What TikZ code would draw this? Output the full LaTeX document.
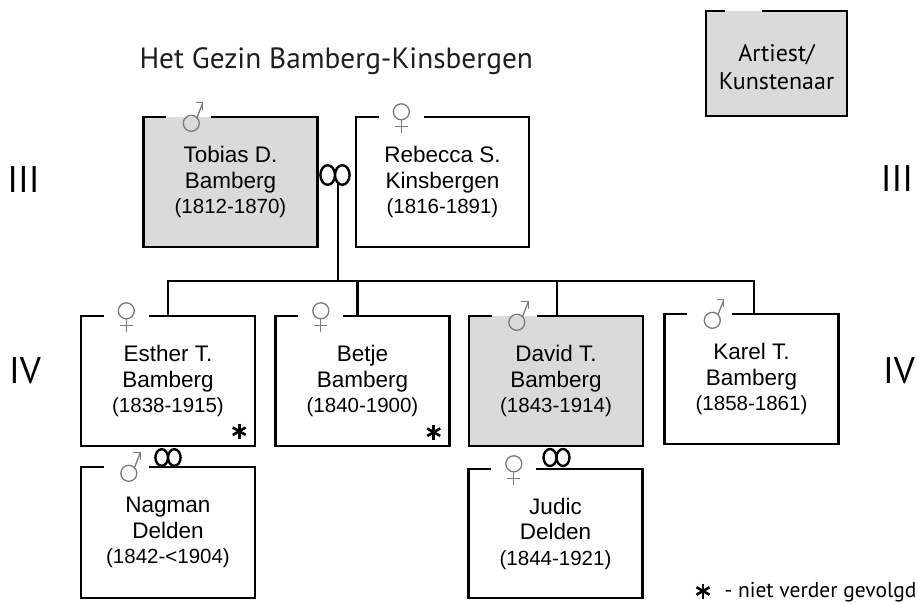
\documentclass[tikz,border=0pt]{standalone}
\usepackage{fontspec}
\setmainfont{Liberation Sans}
\newfontfamily\kopfont{PT Sans}
\definecolor{kunst}{HTML}{DADADA}
\definecolor{teken}{HTML}{7A7A7A}
\definecolor{titel}{HTML}{1E1E1E}
\newcommand{\datum}{\fontsize{20.5}{25.5}\selectfont}
\tikzset{
	persoon/.style={
		minimum width=174,
		minimum height=130,
		inner sep=0,
		align=center,
		font=\fontsize{22.5}{25.5}\selectfont
	},
	rand/.style={line width=2.5pt},
	lijn/.style={line width=2.5pt},
	generatie/.style={
		inner sep=0,
		font=\kopfont\fontsize{37}{40}\selectfont
	},
	man/.style={
		minimum size=40, inner sep=0,
		path picture={
			\begin{scope}[shift={(path picture bounding box.center)}, draw=teken, line width=1.3pt]
				\draw (2.5,6.5) circle (8pt);
				\draw (8.2,0.8) -- (14,-14);
				\draw (7,-14) -- (14,-14) -- (14,-7);
			\end{scope}
		}
	},
	vrouw/.style={
		minimum size=40, inner sep=0,
		path picture={
			\begin{scope}[shift={(path picture bounding box.center)}, draw=teken, line width=1.3pt]
				\draw (0,-5) circle (8pt);
				\draw (0,3) -- (0,16);
				\draw (-6.5,10) -- (6.5,10);
			\end{scope}
		}
	},
	huwelijk/.style 2 args={
		minimum width=40, minimum height=30, inner sep=0,
		path picture={
			\draw[line width=2.4pt] ([xshift=-#1]path picture bounding box.center) ellipse (#1 and #2)
				([xshift=#1]path picture bounding box.center) ellipse (#1 and #2);
		}
	},
	nietgevolgd/.style={
		minimum size=20, inner sep=0,
		path picture={
			\begin{scope}[shift={(path picture bounding box.center)}]
				\foreach \a in {90,30,150}
					\draw[line width=2.6pt] (\a:7.5pt) -- (\a+180:7.5pt);
			\end{scope}
		}
	}
}

\begin{document}
\begin{tikzpicture}[x=1pt, y=-1pt]
	\useasboundingbox (0,0) rectangle (917,603);
	% titel en legenda
	\node[anchor=base west, text=titel, font=\kopfont\fontsize{29.3}{31}\selectfont] (titel) at (136,68) {Het Gezin Bamberg-Kinsbergen};
	\node[persoon, fill=kunst, minimum width=141, minimum height=105] (legenda) at (776.5,63.5) {};
	\node[align=center, inner sep=0, font=\kopfont\fontsize{24}{28}\selectfont] (legenda-tekst) at (legenda.center) [yshift=-4pt] {Artiest/\\Kunstenaar};
	\draw[line width=2.4pt] ([xshift=56pt]legenda.north west) -| (legenda.south east) -| (legenda.north west) -- ([xshift=19pt]legenda.north west);

	% generatie III
	\node[persoon, fill=kunst] (tobias) at (230.5,182) {Tobias D.\\Bamberg\\{\datum (1812-1870)}};
	\node[persoon, minimum width=173] (rebecca) at (442.5,182) {Rebecca S.\\Kinsbergen\\{\datum (1816-1891)}};
	% generatie IV
	\node[persoon] (esther) at (168,381) {Esther T.\\Bamberg\\{\datum (1838-1915)}};
	\node[persoon] (betje) at (362.5,381) {Betje\\Bamberg\\{\datum (1840-1900)}};
	\node[persoon, fill=kunst] (david) at (556,381) {David T.\\Bamberg\\{\datum (1843-1914)}};
	\node[persoon] (karel) at (751.5,379) {Karel T.\\Bamberg\\{\datum (1858-1861)}};
	% aangetrouwd
	\node[persoon, minimum height=131] (nagman) at (168,532.5) {Nagman\\Delden\\{\datum (1842-<1904)}};
	\node[persoon, minimum height=129] (judic) at (555.5,533.5) {Judic\\Delden\\{\datum (1844-1921)}};

	\foreach \p in {tobias,rebecca,esther,betje,david,karel,nagman,judic}
		\draw[rand] ([xshift=68pt]\p.north west) -| (\p.south east) -| (\p.north west) -- ([xshift=23pt]\p.north west);

	\foreach \p in {tobias,david,karel,nagman}
		\node[man] (\p-teken) at ([xshift=45.5pt]\p.north west) {};
	\foreach \p in {rebecca,esther,betje,judic}
		\node[vrouw] (\p-teken) at ([xshift=45.5pt]\p.north west) {};

	% huwelijken
	\node[huwelijk={7.3pt}{9.8pt}] (h1) at (335,175) {};
	\node[huwelijk={6.3pt}{8.3pt}] (h2) at (168,457.5) {};
	\node[huwelijk={6.5pt}{8.5pt}] (h3) at (556.5,457.5) {};

	% kinderen
	\coordinate (stam) at (338,281);
	\draw[lijn] ([xshift=3pt,yshift=-8pt]h1.center) -- (stam);
	\draw[lijn] (esther.north) |- (stam) -| ([xshift=2.5pt]karel.north);
	\foreach \p/\dx in {betje/-5, david/1}
		\draw[lijn] ([xshift=\dx pt]\p.north) -- ([xshift=\dx pt]\p.north |- stam);

	% niet verder gevolgd
	\node[nietgevolgd] (esther-ster) at ([shift={(-16,-15)}]esther.south east) {};
	\node[nietgevolgd] (betje-ster) at ([shift={(-16,-14)}]betje.south east) {};
	\node[nietgevolgd] (voetnoot-ster) at (703,591) {};
	\node[anchor=base west, font=\kopfont\fontsize{21.5}{23}\selectfont] (voetnoot) at (721,597) {- niet verder gevolgd};

	% generaties
	\node[generatie] (III-links) at (23.5,180) {III};
	\node[generatie] (III-rechts) at (897,179) {III};
	\node[generatie] (IV-links) at (25,371) {IV};
	\node[generatie] (IV-rechts) at (899,371) {IV};
\end{tikzpicture}
\end{document}
